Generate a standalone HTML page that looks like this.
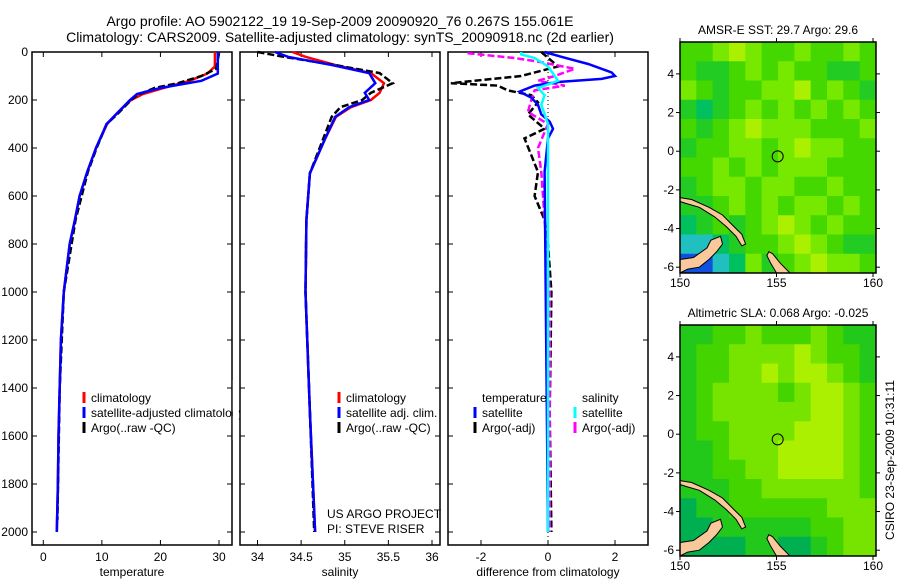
<!DOCTYPE html>
<html><head><meta charset="utf-8"><style>
html,body{margin:0;padding:0;background:#fff}
svg{display:block;font-family:"Liberation Sans",sans-serif}
</style></head><body>
<svg id="fig" width="900" height="580" viewBox="0 0 900 580" xmlns="http://www.w3.org/2000/svg">
<text x="340" y="26" font-size="14" text-anchor="middle">Argo profile: AO 5902122_19 19-Sep-2009 20090920_76 0.267S 155.061E</text>
<text x="340" y="42" font-size="14" text-anchor="middle">Climatology: CARS2009. Satellite-adjusted climatology: synTS_20090918.nc (2d earlier)</text>
<text transform="translate(894,460) rotate(-90)" font-size="12" text-anchor="middle">CSIRO 23-Sep-2009 10:31:11</text>
<g id="root"></g>
</svg>
<script>
// ---------- data ----------
const tDepth = [0,60,90,120,150,175,200,250,300,400,500,600,700,800,1000,1200,1400,1600,1800,2000];
const tempClim = [29.3,29.3,28,25,20.5,17,15,12.8,10.9,9.0,7.5,6.2,5.4,4.5,3.5,3.0,2.8,2.6,2.5,2.3];
const tempSat = [29.8,29.8,29.8,27,20,16,14.8,12.8,10.8,9.0,7.5,6.2,5.4,4.5,3.5,3.0,2.8,2.6,2.5,2.3];
const aDepth = [5,70,100,130,150,180,200,260,300,400,500,700,1000,1400,1950];
const tempArgo = [30,29.5,27,23,19,16,15,12.6,10.8,9.1,7.6,5.5,3.5,2.8,2.4];
const sDepth = [0,20,55,88,130,170,200,230,270,365,505,700,1000,1500,2000];
const salClim = [34.4,34.55,34.9,35.3,35.45,35.4,35.3,35.07,34.9,34.77,34.6,34.56,34.55,34.6,34.66];
const salSat = [34.2,34.35,34.86,35.28,35.35,35.23,35.28,35.05,34.89,34.77,34.6,34.56,34.55,34.6,34.66];
const salArgo = [34.0,34.3,34.9,35.4,35.55,35.3,35.2,34.95,34.85,34.75,34.6,34.56,34.55,34.6,34.65];
const dDepthT = [0,20,50,85,100,112,125,140,165,190,220,260,290,320,360,500,2000];
const diffTSat = [-0.1,0.4,1.2,1.9,2.0,1.6,0.3,-0.4,-0.85,-0.5,-0.3,-0.2,0.05,0.15,0,-0.1,0];
const dDepthS = [0,10,25,60,100,120,150,180,220,300,2000];
const diffSSat = [-0.8,-0.8,-0.4,0.0,0.2,0.3,-0.3,-0.1,-0.2,0,0];
const dDepthA = [0,60,100,130,140,160,180,210,260,320,360,430,500,600,700,800,1000,1500,2000];
const diffTArgo = [-0.2,0.3,-0.8,-2.9,-1.5,-1.2,-0.5,-0.3,-0.6,-0.1,-0.7,-0.5,-0.3,-0.4,-0.1,0,0.1,0.05,0.1];
const dDepthM = [5,25,40,70,100,120,140,160,200,250,300,400,500,1000,2000];
const diffSArgo = [-2.4,-1.0,-0.3,0.8,0.2,-0.3,0.5,-0.4,-0.5,-0.6,0,-0.3,-0.2,0.05,0.05];
const depthTicks = [0,200,400,600,800,1000,1200,1400,1600,1800,2000];
const tempTicks = [0,10,20,30];
const salTicks = [34,34.5,35,35.5,36];
const diffTicks = [-2,0,2];
const lonTicks = [150,155,160];
const latTicks = [4,2,0,-2,-4,-6];
const sstGrid = [
[2,2,3,4,3,2,2,3,2,2,3,2],[2,1,1,2,3,2,3,2,2,1,1,2],[3,2,1,2,2,3,3,4,2,3,2,1],
[1,0,1,2,3,2,3,2,3,2,3,2],[2,1,2,3,4,3,3,3,2,2,2,3],[1,2,2,3,3,2,3,4,3,3,2,2],
[2,2,3,2,3,2,3,3,3,2,2,2],[1,2,3,3,2,3,3,2,2,3,2,2],[1,1,2,3,2,3,2,3,3,2,3,2],
[0,1,2,1,2,3,4,3,2,3,2,2],[5,5,0,1,2,2,3,4,3,2,1,1],[6,6,5,0,3,1,2,3,4,3,3,2]];
const slaGrid = [
[1,1,2,2,3,2,2,2,3,2,1,1],[1,2,2,3,3,3,3,4,3,2,2,1],[1,2,2,3,3,4,3,4,4,3,2,1],
[1,2,3,3,3,3,2,3,4,4,3,2],[1,2,3,3,3,3,3,3,4,4,3,2],[1,2,2,3,3,3,3,4,4,4,3,2],
[1,1,2,3,3,3,4,4,4,4,3,2],[1,1,2,2,3,3,4,4,4,4,3,2],[1,1,1,2,2,3,3,3,3,3,3,2],
[0,1,1,2,2,2,2,2,2,3,3,3],[0,0,1,1,1,1,1,1,2,2,3,3],[0,0,0,0,1,1,0,0,1,2,3,3]];
const sstColors = ["#00c060","#22cc22","#44d800","#77e800","#aaf000","#20c0c0","#1050e0"];
const slaColors = ["#00b050","#22c81a","#44d400","#77e400","#aaf000"];
const newIreland = [[150,-2.4],[150.6,-2.5],[151.5,-2.9],[152.2,-3.3],[152.8,-3.9],[153.2,-4.3],[153.4,-4.8],[153.2,-4.9],[152.9,-4.4],[152.4,-3.9],[151.8,-3.4],[151,-2.9],[150.3,-2.7],[150,-2.6]];
const newBritain = [[150,-5.6],[150.7,-5.5],[151.4,-5.0],[151.6,-4.6],[152.1,-4.4],[152.2,-4.8],[151.9,-5.2],[151.5,-5.6],[151,-6.0],[150.4,-6.1],[150,-6.3]];
const bougainville = [[154.6,-5.2],[154.8,-5.3],[155.2,-5.8],[155.7,-6.3],[155,-6.3],[154.7,-5.8],[154.5,-5.4]];
const floatPos = [155.061,-0.267];

// ---------- helpers ----------
const NS="http://www.w3.org/2000/svg";
const root=document.getElementById('root');
function mk(tag,attrs,parent){const e=document.createElementNS(NS,tag);for(const k in attrs)e.setAttribute(k,attrs[k]);(parent||root).appendChild(e);return e;}
function lin(d0,d1,r0,r1){return v=>r0+(v-d0)*(r1-r0)/(d1-d0);}
const yD = lin(0,2000,52,532);
function line(g,xs,ds,xf,color,w,dash,name){
  const pts=xs.map((v,i)=>xf(v).toFixed(1)+','+yD(ds[i]).toFixed(1)).join(' ');
  const p=mk('polyline',{points:pts,fill:'none',stroke:color,'stroke-width':w},g);
  if(dash)p.setAttribute('stroke-dasharray',dash);
  
  
}
function panel(name,x0,x1,xf,ticks,fmt,label,showY){
  const g=mk('g',{});
  
  
  mk('rect',{x:x0,y:52,width:x1-x0,height:493,fill:'#fff',stroke:'#000','stroke-width':1.5},g);
  depthTicks.forEach(d=>{const y=yD(d);
    mk('line',{x1:x0,x2:x0+5,y1:y,y2:y,stroke:'#000'},g);mk('line',{x1:x1-5,x2:x1,y1:y,y2:y,stroke:'#000'},g);
    if(showY){const t=mk('text',{x:x0-4,y:y+4,'font-size':12,'text-anchor':'end'},g);t.textContent=d;
      
      }
  });
  ticks.forEach(v=>{const x=xf(v);
    mk('line',{x1:x,x2:x,y1:52,y2:57,stroke:'#000'},g);mk('line',{x1:x,x2:x,y1:540,y2:545,stroke:'#000'},g);
    const t=mk('text',{x:x,y:561,'font-size':12,'text-anchor':'middle'},g);t.textContent=fmt(v);
    
    
  });
  const l=mk('text',{x:(x0+x1)/2,y:576,'font-size':12,'text-anchor':'middle'},g);l.textContent=label;
  
  
  return g;
}
function legend(g,x,y,items){
  items.forEach((it,i)=>{const yy=y+i*15;
    if(it[0])mk('line',{x1:x,x2:x,y1:yy-10,y2:yy+1,stroke:it[0],'stroke-width':3},g);
    const t=mk('text',{x:x+7,y:yy,'font-size':12},g);t.textContent=it[1];
    
    
  });
}

// Panel 1 temperature
const xT=lin(0,30,43.3,219);
const g1=panel('temperature-panel',32,232,xT,tempTicks,v=>v,'temperature',true);
line(g1,tempClim,tDepth,xT,'#ff0000',2.5,null,'temp-climatology-line');
line(g1,tempArgo,aDepth,xT,'#000',2.5,'7,3','temp-argo-line');
line(g1,tempSat,tDepth,xT,'#0000ff',2.5,null,'temp-satellite-line');
legend(g1,84,402,[['#f00','climatology'],['#00f','satellite-adjusted climatology'],['#000','Argo(..raw -QC)']]);
mk('rect',{x:232.8,y:380,width:6,height:60,fill:'#fff'});

// Panel 2 salinity
const xS=lin(34,36,257.5,432);
const g2=panel('salinity-panel',240,440,xS,salTicks,v=>v,'salinity',false);
line(g2,salClim,sDepth,xS,'#ff0000',2.5,null,'sal-climatology-line');
line(g2,salArgo,sDepth,xS,'#000',2.5,'7,3','sal-argo-line');
line(g2,salSat,sDepth,xS,'#0000ff',2.5,null,'sal-satellite-line');
legend(g2,339,402,[['#f00','climatology'],['#00f','satellite adj. clim.'],['#000','Argo(..raw -QC)']]);
legend(g2,320,518,[[null,'US ARGO PROJECT'],[null,'PI: STEVE RISER']]);

// Panel 3 differences
const xDf=lin(-2,2,481,615);
const g3=panel('difference-panel',448,648,xDf,diffTicks,v=>v,'difference from climatology',false);
mk('line',{x1:xDf(0),x2:xDf(0),y1:52,y2:545,stroke:'#000','stroke-dasharray':'1,3'},g3);
line(g3,diffTArgo,dDepthA,xDf,'#000',2.5,'7,3','diff-temp-argo-line');
line(g3,diffSArgo,dDepthM,xDf,'#ff00ff',2.5,'7,3','diff-sal-argo-line');
line(g3,diffTSat,dDepthT,xDf,'#0000ff',2.5,null,'diff-temp-satellite-line');
line(g3,diffSSat,dDepthS,xDf,'#00ffff',2.5,null,'diff-sal-satellite-line');
legend(g3,475,402,[[null,'temperature'],['#00f','satellite'],['#000','Argo(-adj)']]);
legend(g3,575,402,[[null,'salinity'],['#0ff','satellite'],['#f0f','Argo(-adj)']]);

// Maps
function map(name,top,grid,colors,title){
  const g=mk('g',{});
  
  
  const L=680,R=876,B=top+231;
  const xl=lin(150,160,680,873), yl=lin(5.65,-6.3,top,B);
  const rows=grid.length, cols=grid[0].length, cw=(R-L)/cols, ch=(B-top)/rows;
  grid.forEach((row,r)=>row.forEach((v,c)=>{
    mk('rect',{x:L+c*cw,y:top+r*ch,width:cw+0.5,height:ch+0.5,fill:colors[v]},g);
  }));
  [newIreland,newBritain,bougainville].forEach(poly=>{
    const p=mk('polygon',{points:poly.map(q=>xl(q[0]).toFixed(1)+','+yl(q[1]).toFixed(1)).join(' '),fill:'#f9c89b',stroke:'#000','stroke-width':1},g);
    
    
  });
  const c=mk('circle',{cx:xl(floatPos[0]),cy:yl(floatPos[1]),r:5.5,fill:'none',stroke:'#000','stroke-width':1},g);
  
  
  mk('rect',{x:L,y:top,width:R-L,height:B-top,fill:'none',stroke:'#000','stroke-width':1.5},g);
  lonTicks.forEach(v=>{const x=xl(v);
    mk('line',{x1:x,x2:x,y1:top-4,y2:top,stroke:'#000'},g);mk('line',{x1:x,x2:x,y1:B,y2:B+4,stroke:'#000'},g);
    const t=mk('text',{x:x,y:B+14,'font-size':12,'text-anchor':'middle'},g);t.textContent=v;
    
    
  });
  latTicks.forEach(v=>{const y=yl(v);
    mk('line',{x1:L-4,x2:L,y1:y,y2:y,stroke:'#000'},g);mk('line',{x1:R,x2:R+4,y1:y,y2:y,stroke:'#000'},g);
    const t=mk('text',{x:L-6,y:y+4,'font-size':12,'text-anchor':'end'},g);t.textContent=v;
    
    
  });
  const t=mk('text',{x:778,y:top-8,'font-size':12,'text-anchor':'middle'},g);t.textContent=title;
  
  
}
map('sst-map',42,sstGrid,sstColors,'AMSR-E SST: 29.7 Argo: 29.6');
map('sla-map',325,slaGrid,slaColors,'Altimetric SLA: 0.068 Argo: -0.025');
</script>
</body></html>
